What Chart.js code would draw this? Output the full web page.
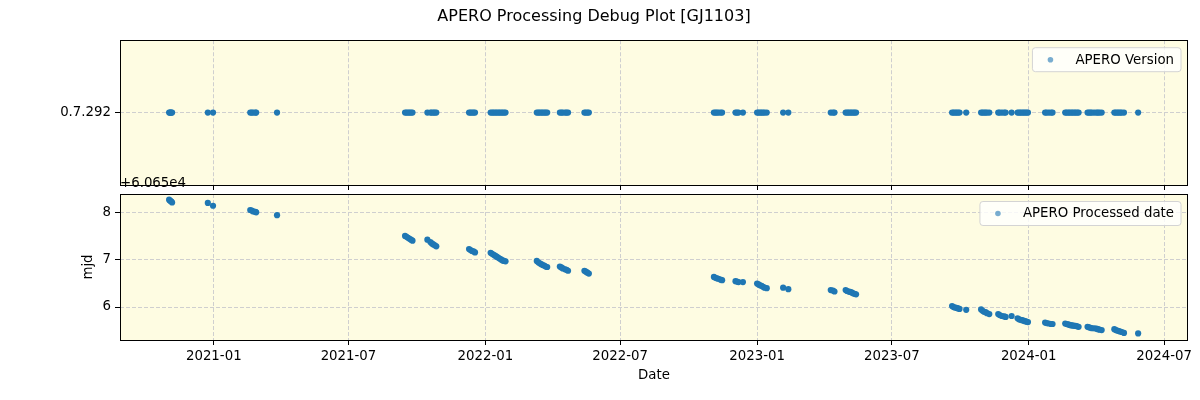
<!DOCTYPE html>
<html>
<head>
<meta charset="utf-8">
<script src="https://cdn.jsdelivr.net/npm/chart.js@4.4.1/dist/chart.umd.min.js"></script>
<style>
  body { margin: 0; background: #fff; width: 1200px; height: 400px; position: relative; overflow: hidden; }
  canvas { position: absolute; left: 0; }
  #versionChart { top: 0; }
  #mjdChart { top: 170px; }
</style>
</head>
<body>
<canvas id="versionChart" width="1200" height="197"></canvas>
<canvas id="mjdChart" width="1200" height="230"></canvas>
<script>
// observation dates (x, both panels)
const obsDates = [
  '2020-11-02', '2020-11-03', '2020-11-04', '2020-11-05', '2020-11-06',
  '2020-12-24', '2020-12-31',
  '2021-02-19', '2021-02-21', '2021-02-23', '2021-02-26', '2021-02-27',
  '2021-03-27',
  '2021-09-15', '2021-09-17', '2021-09-19', '2021-09-21', '2021-09-23', '2021-09-25',
  '2021-10-15', '2021-10-19', '2021-10-21', '2021-10-23', '2021-10-25', '2021-10-27',
  '2021-12-10', '2021-12-12', '2021-12-14', '2021-12-16', '2021-12-18',
  '2022-01-08', '2022-01-10', '2022-01-12', '2022-01-14', '2022-01-16', '2022-01-18',
  '2022-01-20', '2022-01-22', '2022-01-24', '2022-01-26', '2022-01-28',
  '2022-03-11', '2022-03-13', '2022-03-15', '2022-03-17', '2022-03-19', '2022-03-21',
  '2022-03-23', '2022-03-25',
  '2022-04-11', '2022-04-13', '2022-04-15', '2022-04-18', '2022-04-20', '2022-04-22',
  '2022-05-14', '2022-05-16', '2022-05-18', '2022-05-20',
  '2022-11-04', '2022-11-06', '2022-11-08', '2022-11-10', '2022-11-13', '2022-11-15',
  '2022-12-03', '2022-12-05', '2022-12-07', '2022-12-13',
  '2023-01-01', '2023-01-03', '2023-01-05', '2023-01-07', '2023-01-09', '2023-01-11', '2023-01-14',
  '2023-02-05', '2023-02-12',
  '2023-04-10', '2023-04-13', '2023-04-15',
  '2023-04-30', '2023-05-02', '2023-05-04', '2023-05-06', '2023-05-08', '2023-05-10',
  '2023-05-12', '2023-05-14',
  '2023-09-20', '2023-09-22', '2023-09-24', '2023-09-26', '2023-09-28', '2023-09-30',
  '2023-10-09',
  '2023-10-29', '2023-10-31', '2023-11-02', '2023-11-04', '2023-11-06', '2023-11-09',
  '2023-11-21', '2023-11-23', '2023-11-26', '2023-11-29', '2023-12-01',
  '2023-12-09',
  '2023-12-17', '2023-12-19', '2023-12-21', '2023-12-23', '2023-12-25', '2023-12-27',
  '2023-12-29', '2023-12-31',
  '2024-01-23', '2024-01-25', '2024-01-28', '2024-01-31', '2024-02-02',
  '2024-02-19', '2024-02-21', '2024-02-23', '2024-02-25', '2024-02-27', '2024-02-29',
  '2024-03-02', '2024-03-04', '2024-03-06', '2024-03-08',
  '2024-03-20', '2024-03-22', '2024-03-24', '2024-03-26', '2024-03-29', '2024-04-01',
  '2024-04-03', '2024-04-05', '2024-04-08',
  '2024-04-25', '2024-04-27', '2024-04-29', '2024-05-01', '2024-05-03', '2024-05-05', '2024-05-08',
  '2024-05-27'
];

// processed date (mjd), bottom panel
const processedMjd = [
  60658.28, 60658.26, 60658.25, 60658.24, 60658.22,
  60658.21, 60658.15,
  60658.06, 60658.05, 60658.03, 60658.02, 60658.01,
  60657.95,
  60657.51, 60657.49, 60657.47, 60657.45, 60657.43, 60657.41,
  60657.43, 60657.38, 60657.35, 60657.33, 60657.31, 60657.29,
  60657.23, 60657.21, 60657.19, 60657.18, 60657.16,
  60657.15, 60657.13, 60657.11, 60657.09, 60657.07, 60657.05,
  60657.03, 60657.01, 60656.99, 60656.98, 60656.97,
  60656.98, 60656.95, 60656.93, 60656.91, 60656.89, 60656.88,
  60656.86, 60656.85,
  60656.86, 60656.84, 60656.82, 60656.80, 60656.79, 60656.77,
  60656.77, 60656.75, 60656.73, 60656.71,
  60656.64, 60656.62, 60656.61, 60656.60, 60656.58, 60656.57,
  60656.55, 60656.54, 60656.53, 60656.53,
  60656.50, 60656.48, 60656.46, 60656.45, 60656.43, 60656.41, 60656.40,
  60656.41, 60656.38,
  60656.36, 60656.35, 60656.33,
  60656.36, 60656.34, 60656.33, 60656.32, 60656.31, 60656.29,
  60656.28, 60656.27,
  60656.02, 60656.00, 60655.99, 60655.98, 60655.97, 60655.96,
  60655.94,
  60655.95, 60655.92, 60655.90, 60655.89, 60655.87, 60655.85,
  60655.85, 60655.83, 60655.81, 60655.80, 60655.79,
  60655.81,
  60655.76, 60655.74, 60655.73, 60655.72, 60655.71, 60655.70,
  60655.69, 60655.68,
  60655.67, 60655.66, 60655.65, 60655.64, 60655.64,
  60655.65, 60655.64, 60655.63, 60655.62, 60655.61, 60655.61,
  60655.60, 60655.60, 60655.59, 60655.58,
  60655.58, 60655.57, 60655.56, 60655.55, 60655.55, 60655.54,
  60655.53, 60655.52, 60655.51,
  60655.53, 60655.51, 60655.50, 60655.49, 60655.48, 60655.47, 60655.45,
  60655.44
];

const versionLabels = ['0.7.292'];
const xTickLabels = ['2021-01', '2021-07', '2022-01', '2022-07', '2023-01', '2023-07', '2024-01', '2024-07'];
const mjdTicks = [60656, 60657, 60658];
const mjdOffset = 60650;
const xRange = ['2020-08-28', '2024-08-02'];
const mjdRange = [60655.30, 60658.40];

const FONT = '"DejaVu Sans", sans-serif';
Chart.defaults.font.family = FONT;
Chart.defaults.font.size = 13.33;
Chart.defaults.color = '#000';

const dotColor = '#1f77b4';
const gridColor = '#cfcfcf';

const toMs = d => Date.parse(d);

// panel background, frame and matplotlib-like legend
const panelStyle = {
  id: 'panelStyle',
  beforeDraw(chart) {
    const { ctx, chartArea: a } = chart;
    ctx.save();
    ctx.fillStyle = '#fefce2';
    ctx.fillRect(a.left, a.top, a.right - a.left, a.bottom - a.top);
    ctx.restore();
  },
  afterDatasetsDraw(chart) {
    const { ctx, chartArea: a } = chart;
    ctx.save();
    ctx.strokeStyle = '#000';
    ctx.lineWidth = 1;
    ctx.strokeRect(Math.round(a.left) + 0.5, Math.round(a.top) + 0.5,
      Math.round(a.right - a.left) - 1, Math.round(a.bottom - a.top));
    const label = chart.data.datasets[0].label;
    ctx.font = '13.33px ' + FONT;
    const tw = ctx.measureText(label).width;
    const w = tw + 50, h = 24;
    const x = a.right - 7 - w, y = a.top + 7.5;
    ctx.beginPath();
    ctx.roundRect(x, y, w, h, 3);
    ctx.fillStyle = 'rgba(255,255,255,0.8)';
    ctx.fill();
    ctx.strokeStyle = '#d4d4d4';
    ctx.stroke();
    ctx.beginPath();
    ctx.arc(x + 18, y + h / 2, 2.8, 0, Math.PI * 2);
    ctx.fillStyle = 'rgba(31,119,180,0.6)';
    ctx.fill();
    ctx.fillStyle = '#000';
    ctx.textBaseline = 'middle';
    ctx.fillText(label, x + 43, y + h / 2 + 0.5);
    ctx.restore();
  }
};

// offset text and axis titles for the bottom panel
const extraText = {
  id: 'extraText',
  afterDraw(chart) {
    const { ctx, chartArea: a } = chart;
    ctx.save();
    ctx.fillStyle = '#000';
    ctx.font = '13.33px ' + FONT;
    ctx.textBaseline = 'middle';
    ctx.textAlign = 'left';
    ctx.fillText('+6.065e4', a.left, a.top - 10);
    ctx.textAlign = 'center';
    ctx.fillText('Date', (a.left + a.right) / 2, a.bottom + 36);
    ctx.translate(89, (a.top + a.bottom) / 2);
    ctx.rotate(-Math.PI / 2);
    ctx.fillText('mjd', 0, 0);
    ctx.restore();
  }
};

function xScale(showLabels) {
  return {
    type: 'linear',
    min: toMs(xRange[0]),
    max: toMs(xRange[1]),
    afterBuildTicks: s => { s.ticks = xTickLabels.map(t => ({ value: toMs(t + '-01') })); },
    afterFit: s => { s.height = showLabels ? 60 : 5; },
    ticks: {
      display: showLabels,
      padding: 4,
      maxRotation: 0,
      autoSkip: false,
      callback: (v, i) => xTickLabels[i]
    },
    grid: { color: gridColor, tickColor: '#000', tickLength: 5, tickWidth: 1 },
    border: { display: false, dash: [4, 2] }
  };
}

const yGrid = { color: gridColor, tickColor: '#000', tickLength: 5, tickWidth: 1 };

new Chart(document.getElementById('versionChart'), {
  type: 'scatter',
  data: {
    datasets: [{
      label: 'APERO Version',
      data: obsDates.map(d => ({ x: toMs(d), y: versionLabels[0] })),
      backgroundColor: dotColor,
      borderWidth: 0,
      pointRadius: 3.1
    }]
  },
  options: {
    responsive: false,
    animation: false,
    events: [],
    layout: { padding: { left: 0, right: 12, top: 0, bottom: 0 } },
    plugins: {
      legend: { display: false },
      tooltip: { enabled: false },
      title: {
        display: true,
        text: 'APERO Processing Debug Plot [GJ1103]',
        font: { size: 16, weight: 'normal' },
        color: '#000',
        padding: { top: 7, bottom: 14 }
      }
    },
    scales: {
      x: xScale(false),
      y: {
        type: 'category',
        labels: versionLabels,
        offset: true,
        afterFit: s => { s.width = 120; },
        ticks: { padding: 4 },
        grid: Object.assign({ offset: false }, yGrid),
        border: { display: false, dash: [4, 2] }
      }
    }
  },
  plugins: [panelStyle]
});

new Chart(document.getElementById('mjdChart'), {
  type: 'scatter',
  data: {
    datasets: [{
      label: 'APERO Processed date',
      data: obsDates.map((d, i) => ({ x: toMs(d), y: processedMjd[i] })),
      backgroundColor: dotColor,
      borderWidth: 0,
      pointRadius: 3.1
    }]
  },
  options: {
    responsive: false,
    animation: false,
    events: [],
    layout: { padding: { left: 0, right: 12, top: 24, bottom: 0 } },
    plugins: { legend: { display: false }, tooltip: { enabled: false } },
    scales: {
      x: xScale(true),
      y: {
        type: 'linear',
        min: mjdRange[0],
        max: mjdRange[1],
        afterBuildTicks: s => { s.ticks = mjdTicks.map(v => ({ value: v })); },
        afterFit: s => { s.width = 120; },
        ticks: { padding: 4, callback: v => String(Math.round(v - mjdOffset)) },
        grid: yGrid,
        border: { display: false, dash: [4, 2] }
      }
    }
  },
  plugins: [panelStyle, extraText]
});
</script>
</body>
</html>
